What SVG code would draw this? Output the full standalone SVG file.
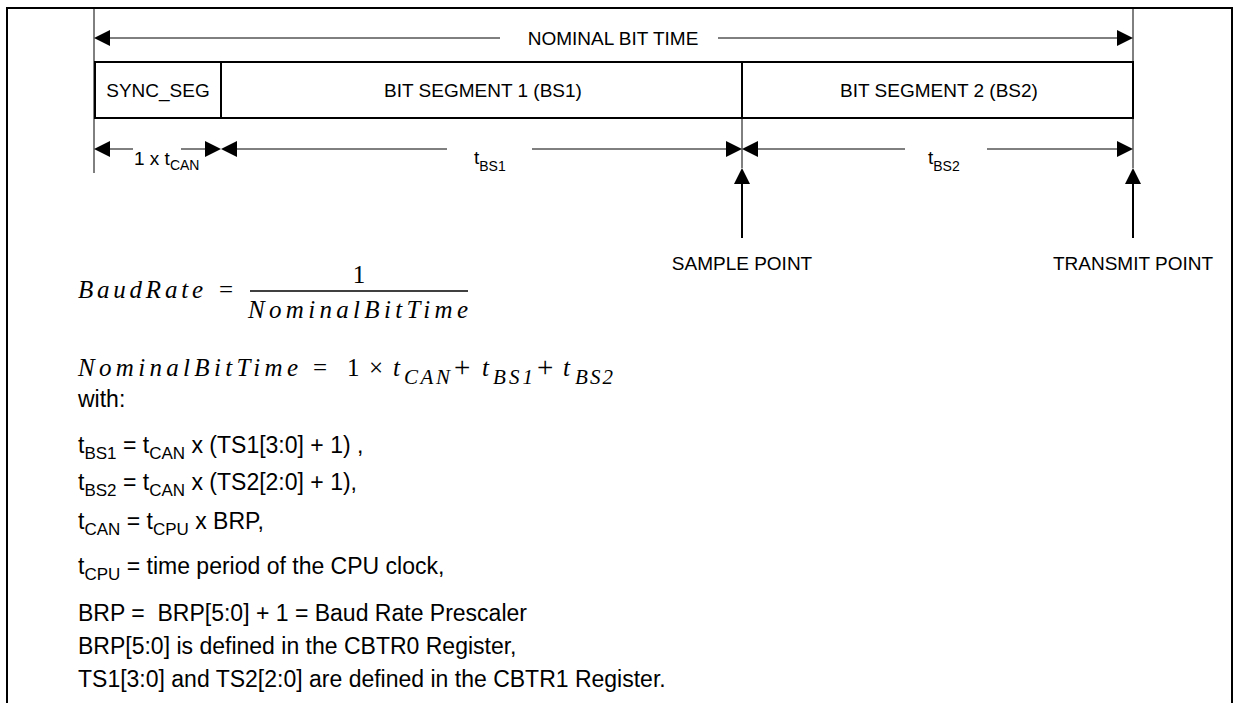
<svg xmlns="http://www.w3.org/2000/svg" xmlns:xlink="http://www.w3.org/1999/xlink" width="1237" height="703" viewBox="0 0 1237 703">
<style>
.lbl{font-family:"Liberation Sans",Arial,sans-serif;font-size:19px;fill:#000;white-space:pre}
.sub{font-size:14px}
.txt{font-family:"Liberation Sans",Arial,sans-serif;font-size:23px;fill:#000;white-space:pre}
.tsub{font-size:17px}
.eq{font-family:"Liberation Serif","Times New Roman",serif;font-style:italic;font-size:25px;fill:#000;white-space:pre}
.eqs{font-family:"Liberation Serif","Times New Roman",serif;font-style:italic;font-size:21px;fill:#000}
.op{font-family:"Liberation Serif","Times New Roman",serif;font-size:25px;fill:#000}
.plus{font-family:"Liberation Serif","Times New Roman",serif;font-size:29px;fill:#000}
.thin{stroke:#000;stroke-width:1;fill:none}
.thick{stroke:#000;stroke-width:2;fill:none}
</style>
<defs>
<path id="ah" d="M0,0 L-16,-8 L-16,8 Z" fill="#000"/>
</defs>
<rect width="1237" height="703" fill="#fff"/>
<g id="frame">
<path class="thick" d="M7,703 V8 H1232 V703"/>
</g>
<g id="extension-lines">
<line class="thin" x1="94" y1="8" x2="94" y2="173"/>
<line class="thin" x1="1133" y1="8" x2="1133" y2="168"/>
<line class="thin" x1="742" y1="118" x2="742" y2="168"/>
</g>
<g id="nominal-bit-time">
<line class="thin" x1="110" y1="38" x2="500" y2="38"/>
<line class="thin" x1="718" y1="38" x2="1118" y2="38"/>
<use xlink:href="#ah" transform="translate(94,38) rotate(180)"/>
<use xlink:href="#ah" transform="translate(1133,38)"/>
<text class="lbl" x="613" y="45" text-anchor="middle">NOMINAL BIT TIME</text>
</g>
<g id="sync_seg">
<rect class="thick" x="95" y="62" width="126" height="56"/>
<text class="lbl" x="158" y="97" text-anchor="middle">SYNC_SEG</text>
</g>
<g id="bs1">
<rect class="thick" x="221" y="62" width="521" height="56"/>
<text class="lbl" x="483" y="97" text-anchor="middle">BIT SEGMENT 1 (BS1)</text>
</g>
<g id="bs2">
<rect class="thick" x="742" y="62" width="391" height="56"/>
<text class="lbl" x="939" y="97" text-anchor="middle">BIT SEGMENT 2 (BS2)</text>
</g>
<g id="connectors">
<line class="thin" x1="110" y1="149" x2="133" y2="149"/>
<line class="thin" x1="181" y1="149" x2="206" y2="149"/>
<use xlink:href="#ah" transform="translate(94,149) rotate(180)"/>
<use xlink:href="#ah" transform="translate(221,149)"/>
<use xlink:href="#ah" transform="translate(221,149) rotate(180)"/>
<line class="thin" x1="236" y1="149" x2="447" y2="149"/>
<line class="thin" x1="532" y1="149" x2="727" y2="149"/>
<use xlink:href="#ah" transform="translate(742,149)"/>
<use xlink:href="#ah" transform="translate(742,149) rotate(180)"/>
<line class="thin" x1="757" y1="149" x2="905" y2="149"/>
<line class="thin" x1="987" y1="149" x2="1118" y2="149"/>
<use xlink:href="#ah" transform="translate(1133,149)"/>
<line class="thick" x1="742" y1="182" x2="742" y2="238"/>
<use xlink:href="#ah" transform="translate(742,168) rotate(-90)"/>
<line class="thick" x1="1133" y1="182" x2="1133" y2="238"/>
<use xlink:href="#ah" transform="translate(1133,168) rotate(-90)"/>
</g>
<g id="dim-labels">
<text class="lbl" x="134" y="165">1 x t<tspan class="sub" dy="5">CAN</tspan></text>
<text class="lbl" x="474" y="164">t<tspan class="sub" dy="7">BS1</tspan></text>
<text class="lbl" x="928" y="164">t<tspan class="sub" dy="7">BS2</tspan></text>
</g>
<g id="sample-point">
<text class="lbl" x="742" y="270" text-anchor="middle">SAMPLE POINT</text>
</g>
<g id="transmit-point">
<text class="lbl" x="1133" y="270" text-anchor="middle">TRANSMIT POINT</text>
</g>
<g id="equation-baudrate">
<text class="eq" x="78" y="298" textLength="125" lengthAdjust="spacing">BaudRate</text>
<text class="op" x="219" y="298">=</text>
<line x1="250" y1="291" x2="468" y2="291" stroke="#000" stroke-width="1.3"/>
<text class="op" x="359" y="283" text-anchor="middle">1</text>
<text class="eq" x="248" y="318" textLength="220" lengthAdjust="spacing">NominalBitTime</text>
</g>
<g id="equation-nominal">
<text class="eq" x="78" y="376" textLength="220" lengthAdjust="spacing">NominalBitTime</text>
<text class="op" x="313" y="376">=</text>
<text class="op" x="347" y="376">1</text>
<text class="op" x="369" y="376">×</text>
<text class="eq" x="393" y="376">t</text>
<text class="eqs" x="404" y="384" textLength="46" lengthAdjust="spacing">CAN</text>
<text class="plus" x="454" y="377">+</text>
<text class="eq" x="482" y="376">t</text>
<text class="eqs" x="493" y="384" textLength="40" lengthAdjust="spacing">BS1</text>
<text class="plus" x="537" y="377">+</text>
<text class="eq" x="563" y="376">t</text>
<text class="eqs" x="575" y="384" textLength="38" lengthAdjust="spacing">BS2</text>
</g>
<g id="definitions">
<text class="txt" x="78" y="407">with:</text>
<text class="txt" x="78" y="453">t<tspan class="tsub" dy="6">BS1</tspan><tspan dy="-6"> = t</tspan><tspan class="tsub" dy="6">CAN</tspan><tspan dy="-6"> x (TS1[3:0] + 1) ,</tspan></text>
<text class="txt" x="78" y="490">t<tspan class="tsub" dy="6">BS2</tspan><tspan dy="-6"> = t</tspan><tspan class="tsub" dy="6">CAN</tspan><tspan dy="-6"> x (TS2[2:0] + 1),</tspan></text>
<text class="txt" x="78" y="529">t<tspan class="tsub" dy="6">CAN</tspan><tspan dy="-6"> = t</tspan><tspan class="tsub" dy="6">CPU</tspan><tspan dy="-6"> x BRP,</tspan></text>
<text class="txt" x="78" y="574">t<tspan class="tsub" dy="6">CPU</tspan><tspan dy="-6"> = time period of the CPU clock,</tspan></text>
<text class="txt" x="78" y="621">BRP =  BRP[5:0] + 1 = Baud Rate Prescaler</text>
<text class="txt" x="78" y="654">BRP[5:0] is defined in the CBTR0 Register,</text>
<text class="txt" x="78" y="687">TS1[3:0] and TS2[2:0] are defined in the CBTR1 Register.</text>
</g>
</svg>
